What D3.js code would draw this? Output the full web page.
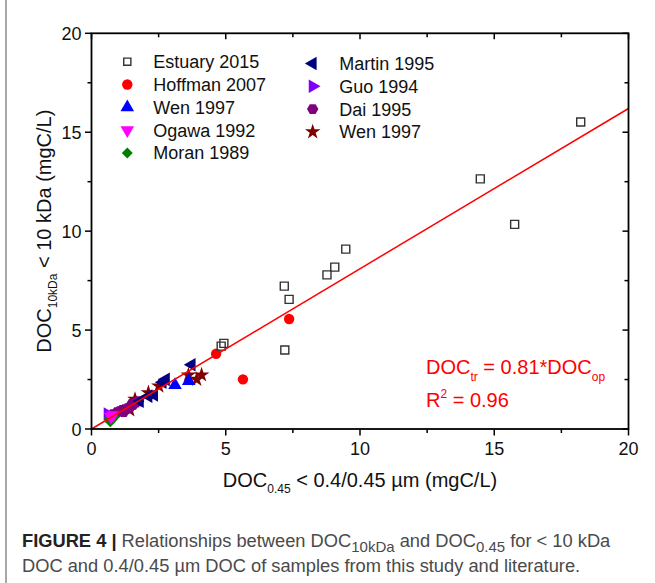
<!DOCTYPE html>
<html>
<head>
<meta charset="utf-8">
<script src="https://cdn.jsdelivr.net/npm/d3@7"></script>
<style>
  body { margin: 0; background: #fff; }
  text { font-family: Arial, "Liberation Sans", sans-serif; }
</style>
</head>
<body>
<script>
// ---- data (x = DOC 0.45, y = DOC 10kDa, mgC/L) ----
var estuary2015 = [[18.22,15.52],[14.48,12.64],[15.76,10.34],[9.47,9.09],[9.06,8.18],[8.77,7.79],
                   [7.18,7.22],[7.36,6.55],[7.20,3.99],[4.93,4.33],[4.83,4.19]];
var hoffman2007 = [[7.36,5.56],[4.64,3.80],[5.64,2.51]];
var wen1997a    = [[3.11,2.22],[3.62,2.42]];
var ogawa1992   = [[0.72,0.62],[0.80,0.70]];
var moran1989   = [[0.70,0.37],[0.78,0.50],[0.86,0.62],[0.66,0.55]];
var martin1995  = [[3.73,3.25],[2.77,2.51],[2.65,2.36],[2.33,1.72],[2.12,1.66],[1.80,1.40]];
var guo1994     = [[0.60,0.76],[0.66,0.66]];
var dai1995     = [[0.80,0.75],[0.95,0.85],[1.05,0.90],[1.15,0.96],[1.25,1.00],[1.35,1.05],
                   [1.45,1.12],[1.55,1.22],[1.65,1.34],[1.75,1.40],[1.50,1.27],[1.20,0.86]];
var wen1997b    = [[4.10,2.73],[3.92,2.51],[3.61,2.73],[2.51,2.17],[2.12,1.83],[1.62,1.50],[1.43,0.96]];
var slope = 0.81;
var xTicks = [0, 5, 10, 15, 20];
var yTicks = [0, 5, 10, 15, 20];

var W = 655, H = 583;
var pLeft = 91.5, pRight = 628.5, pTop = 33.3, pBottom = 429;

var svg = d3.select("body").append("svg").attr("width", W).attr("height", H);

var x = d3.scaleLinear().domain([0, 20]).range([pLeft, pRight]);
var y = d3.scaleLinear().domain([0, 20]).range([pBottom, pTop]);

// grey figure border on the left
svg.append("line").attr("x1", 6).attr("x2", 6).attr("y1", 0).attr("y2", H)
  .attr("stroke", "#a8a8a8").attr("stroke-width", 2);

// symbols
var hexagon = { draw: function(ctx, size) {
  var r = Math.sqrt(size / (1.5 * Math.sqrt(3)));
  for (var i = 0; i < 6; i++) {
    var a = Math.PI / 3 * i;
    var px = r * Math.cos(a), py = r * Math.sin(a);
    if (i === 0) ctx.moveTo(px, py); else ctx.lineTo(px, py);
  }
  ctx.closePath();
}};

var series = [
  { name: "Estuary 2015", data: estuary2015, type: d3.symbolSquare, size: 64, rot: 0, fill: "none", stroke: "#333", col: 0 },
  { name: "Hoffman 2007", data: hoffman2007, type: d3.symbolCircle, size: 85, rot: 0, fill: "#ff0000", col: 0 },
  { name: "Wen 1997",     data: wen1997a,    type: d3.symbolTriangle, size: 80, rot: 0, fill: "#0000ff", col: 0 },
  { name: "Ogawa 1992",   data: ogawa1992,   type: d3.symbolTriangle, size: 80, rot: 180, fill: "#ff00ff", col: 0 },
  { name: "Moran 1989",   data: moran1989,   type: d3.symbolSquare, size: 60, rot: 45, fill: "#008000", col: 0 },
  { name: "Martin 1995",  data: martin1995,  type: d3.symbolTriangle, size: 80, rot: -90, fill: "#000080", col: 1 },
  { name: "Guo 1994",     data: guo1994,     type: d3.symbolTriangle, size: 80, rot: 90, fill: "#8000ff", col: 1 },
  { name: "Dai 1995",     data: dai1995,     type: hexagon, size: 85, rot: 0, fill: "#800080", col: 1 },
  { name: "Wen 1997",     data: wen1997b,    type: d3.symbolStar, size: 75, rot: 0, fill: "#800000", col: 1 }
];

function drawSymbol(g, s, cx, cy, scale) {
  g.append("path")
    .attr("d", d3.symbol().type(s.type).size(s.size * (scale || 1))())
    .attr("transform", "translate(" + cx + "," + cy + ") rotate(" + s.rot + ")")
    .attr("fill", s.fill)
    .attr("stroke", s.stroke || "none")
    .attr("stroke-width", s.stroke ? 1.4 : 0);
}

// points (draw literature sets first, estuary on top)
var plot = svg.append("g");
series.slice().reverse().forEach(function(s) {
  s.data.forEach(function(d) { drawSymbol(plot, s, x(d[0]), y(d[1])); });
});

// regression line
svg.append("line")
  .attr("x1", x(0)).attr("y1", y(0)).attr("x2", x(20)).attr("y2", y(20 * slope))
  .attr("stroke", "#ff0000").attr("stroke-width", 1.5);

// axes: bottom/left outward ticks, top/right inward ticks
var minor = d3.range(0, 20.01, 2.5).filter(function(v) { return v % 5 !== 0; });
var axisG = svg.append("g").attr("stroke", "#000");

function ticks(vals, len, pos) {
  vals.forEach(function(v) {
    if (pos === "bottom") axisG.append("line").attr("x1", x(v)).attr("x2", x(v)).attr("y1", pBottom).attr("y2", pBottom + len);
    if (pos === "top")    axisG.append("line").attr("x1", x(v)).attr("x2", x(v)).attr("y1", pTop).attr("y2", pTop + len);
    if (pos === "left")   axisG.append("line").attr("y1", y(v)).attr("y2", y(v)).attr("x1", pLeft).attr("x2", pLeft - len);
    if (pos === "right")  axisG.append("line").attr("y1", y(v)).attr("y2", y(v)).attr("x1", pRight).attr("x2", pRight - len);
  });
}
ticks(xTicks, 6.5, "bottom"); ticks(minor, 4, "bottom");
ticks(yTicks, 6.5, "left");   ticks(minor, 4, "left");
ticks(xTicks, 6, "top");      ticks(minor, 4, "top");
ticks(yTicks, 6, "right");    ticks(minor, 4, "right");
axisG.selectAll("line").attr("stroke-width", 1.5);

svg.append("rect").attr("x", pLeft).attr("y", pTop)
  .attr("width", pRight - pLeft).attr("height", pBottom - pTop)
  .attr("fill", "none").attr("stroke", "#000").attr("stroke-width", 1.8);

// tick labels
svg.selectAll(".xl").data(xTicks).enter().append("text")
  .attr("x", function(d) { return x(d); }).attr("y", pBottom + 26)
  .attr("text-anchor", "middle").attr("font-size", 18).attr("fill", "#111")
  .text(function(d) { return d; });
svg.selectAll(".yl").data(yTicks).enter().append("text")
  .attr("x", pLeft - 10).attr("y", function(d) { return y(d) + 6.5; })
  .attr("text-anchor", "end").attr("font-size", 18).attr("fill", "#111")
  .text(function(d) { return d; });

// axis titles
var xt = svg.append("text").attr("x", (pLeft + pRight) / 2).attr("y", 487)
  .attr("text-anchor", "middle").attr("font-size", 20).attr("fill", "#111");
xt.append("tspan").text("DOC");
xt.append("tspan").attr("font-size", 12).attr("dy", 6).text("0.45");
xt.append("tspan").attr("dy", -6).text(" < 0.4/0.45 µm (mgC/L)");

var yt = svg.append("text").attr("transform", "translate(51," + ((pTop + pBottom) / 2) + ") rotate(-90)")
  .attr("text-anchor", "middle").attr("font-size", 20).attr("fill", "#111");
yt.append("tspan").text("DOC");
yt.append("tspan").attr("font-size", 12).attr("dy", 6).text("10kDa");
yt.append("tspan").attr("dy", -6).text(" < 10 kDa (mgC/L)");

// legend
var legend = svg.append("g");
var colX = [127.3, 312.7], textX = [153.3, 339.3], rowY0 = [61.7, 63.5], rowDy = 22.8;
var rows = [0, 0];
series.forEach(function(s) {
  var cy = rowY0[s.col] + rows[s.col]++ * rowDy;
  drawSymbol(legend, s, colX[s.col], cy, s.stroke ? 0.8 : 1);
  legend.append("text").attr("x", textX[s.col]).attr("y", cy + 6.5)
    .attr("font-size", 18).attr("fill", "#111").text(s.name);
});

// equation
var eq = svg.append("text").attr("x", 426).attr("y", 374).attr("font-size", 20).attr("fill", "#ff0000");
eq.append("tspan").text("DOC");
eq.append("tspan").attr("font-size", 12).attr("dy", 7).text("tr");
eq.append("tspan").attr("dy", -7).text(" = 0.81*DOC");
eq.append("tspan").attr("font-size", 12).attr("dy", 7).text("op");
var r2 = svg.append("text").attr("x", 426).attr("y", 407).attr("font-size", 20).attr("fill", "#ff0000");
r2.append("tspan").text("R");
r2.append("tspan").attr("font-size", 12).attr("dy", -9).text("2");
r2.append("tspan").attr("dy", 9).text(" = 0.96");

// caption
var c1 = svg.append("text").attr("x", 22).attr("y", 547).attr("font-size", 18.3).attr("fill", "#4a4a4a");
c1.append("tspan").attr("font-weight", "bold").attr("fill", "#222").text("FIGURE 4 | ");
c1.append("tspan").text("Relationships between DOC");
c1.append("tspan").attr("font-size", 15).attr("dy", 5).text("10kDa");
c1.append("tspan").attr("dy", -5).text(" and DOC");
c1.append("tspan").attr("font-size", 15).attr("dy", 5).text("0.45");
c1.append("tspan").attr("dy", -5).text(" for < 10 kDa");
svg.append("text").attr("x", 22).attr("y", 572).attr("font-size", 18.3).attr("fill", "#4a4a4a")
  .text("DOC and 0.4/0.45 µm DOC of samples from this study and literature.");
</script>
</body>
</html>
